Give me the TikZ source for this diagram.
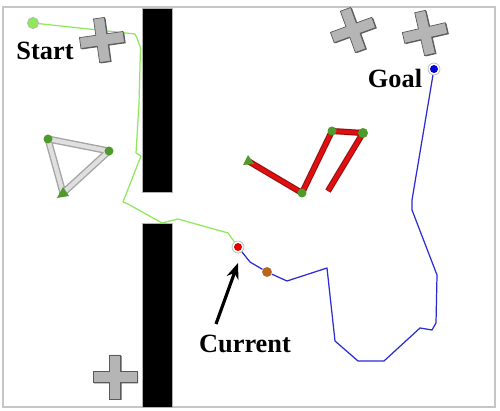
\documentclass[tikz,border=0pt]{standalone}
\usepackage{fontspec}
\setmainfont{Liberation Serif}
\usetikzlibrary{arrows.meta}
\definecolor{pathgreen}{HTML}{8FE85A}
\definecolor{pathblue}{HTML}{2B2BD6}
\definecolor{jointgreen}{HTML}{4E9A2C}
\definecolor{obsgray}{HTML}{B5B5B5}
\definecolor{obsedge}{HTML}{5A5A5A}
\definecolor{armred}{HTML}{E01010}
\definecolor{probebrown}{HTML}{B8651E}

\tikzset{
  lbl/.style={font=\fontsize{15}{18}\selectfont\bfseries,anchor=base,inner sep=0pt},
  ringmark/.style={circle,draw=gray!55,fill=white,line width=0.4pt,
    minimum size=6.8pt,inner sep=0pt},
  trail/.style={line width=0.7pt,line join=round},
}

\begin{document}
\begin{tikzpicture}[x=0.02cm,y=-0.02cm]
  \useasboundingbox (0,0) rectangle (500,411);

  % ---- Workspace frame --------------------------------------
  \fill[white] (0,0) rectangle (500,411);
  \draw[gray!45,line width=0.6pt] (3,7) rectangle (495,407);

  % ---- Markers: start, current, goal, probe -----------------
  \node[ringmark,fill=pathgreen,minimum size=6.4pt] (startpt) at (33,23) {};
  \node[ringmark] (curpt)  at (238,247) {};
  \node[ringmark] (goalpt) at (434,69) {};
  \node[circle,fill=probebrown,minimum size=5.6pt,inner sep=0pt]
    (probe) at (267,272) {};

  % ---- Travelled path (green) -------------------------------
  \draw[pathgreen,trail] (startpt) -- (135,34) -- (137,38) -- (140.5,48)
    -- (139,103) -- (136,153) -- (141,156) -- (123,202) -- (128,204)
    -- (162,223) -- (178,219) -- (228,233) -- (curpt);

  % ---- Planned path (blue) ----------------------------------
  \draw[pathblue,trail] (curpt) -- (250,262) -- (probe) -- (287,281)
    -- (327,268) -- (335,341) -- (358,361) -- (384,361) -- (420,328)
    -- (432,330) -- (436,323) -- (437,275) -- (412,210) -- (412,200)
    -- (goalpt);

  % ---- Walls ------------------------------------------------
  \filldraw[fill=black,draw=gray!60,line width=0.4pt] (142,8) rectangle (172,192);
  \filldraw[fill=black,draw=gray!60,line width=0.4pt] (142,223) rectangle (172,407);

  % ---- Plus-shaped obstacles --------------------------------
  \foreach \cx/\cy/\ang in {102/40/8, 353/30/20, 425/33/13, 115/377/0} {
    \begin{scope}[shift={(\cx,\cy)},rotate=\ang]
      % Shadow
      \fill[obsedge] (-4.5,-21) -- (6.5,-21) -- (6.5,-4.5) -- (23,-4.5)
        -- (23,6.5) -- (6.5,6.5) -- (6.5,23) -- (-4.5,23) -- (-4.5,6.5)
        -- (-21,6.5) -- (-21,-4.5) -- (-4.5,-4.5) -- cycle;
      % Body
      \filldraw[fill=obsgray,draw=obsedge,line width=0.4pt]
        (-5.5,-22) -- (5.5,-22) -- (5.5,-5.5) -- (22,-5.5) -- (22,5.5)
        -- (5.5,5.5) -- (5.5,22) -- (-5.5,22) -- (-5.5,5.5) -- (-22,5.5)
        -- (-22,-5.5) -- (-5.5,-5.5) -- cycle;
    \end{scope}
  }

  % ---- Triangle robot (gray links) --------------------------
  \coordinate (ta) at (48,139);
  \coordinate (tb) at (109,151);
  \coordinate (tc) at (63,193);
  \draw[gray!70,line width=4pt,line join=round] (ta) -- (tb) -- (tc) -- cycle;
  \draw[gray!25,line width=2.4pt,line join=round] (ta) -- (tb) -- (tc) -- cycle;
  \fill[jointgreen] (ta) circle (4.5);
  \fill[jointgreen] (tb) circle (4.5);
  \fill[jointgreen] (57,198) -- (63,187) -- (69,196) -- cycle;

  % ---- Chain robot (red links) ------------------------------
  \coordinate (ra) at (248,161);
  \coordinate (rb) at (302,193);
  \coordinate (rc) at (332,131);
  \coordinate (rd) at (363,133);
  \coordinate (re) at (328,191);
  % Shadow
  \draw[gray!30,line width=3.8pt,line join=round,shift={(-1.8,-1.8)}]
    (ra) -- (rb) -- (rc) -- (rd) -- (re);
  % Links
  \draw[armred!65!black,line width=3.4pt,line join=round]
    (ra) -- (rb) -- (rc) -- (rd) -- (re);
  \draw[armred,line width=2.3pt,line join=round]
    (ra) -- (rb) -- (rc) -- (rd) -- (re);
  % Joints
  \fill[jointgreen] (rb) circle (4.5);
  \fill[jointgreen] (rc) circle (4.5);
  \fill[jointgreen] (rd) circle (5);
  \fill[jointgreen] (243,165) -- (248,155) -- (254,164) -- cycle;

  % ---- Marker centres ---------------------------------------
  \fill[red!90!black] (curpt) circle (4);
  \fill[blue!85!black] (goalpt) circle (4);

  % ---- Labels -----------------------------------------------
  \node[lbl] (startlbl) at (45,60)  {Start};
  \node[lbl] (goallbl)  at (395,88) {Goal};
  \node[lbl] (curlbl)   at (245,353) {Current};

  % ---- Arrow: label to current position ---------------------
  \coordinate (arrtail) at (216,324);
  \coordinate (arrtip)  at (238,263);
  \draw[black,line width=1.8pt,-{Stealth[length=9pt,width=7pt]}]
    (arrtail) -- (arrtip);

\end{tikzpicture}
\end{document}
